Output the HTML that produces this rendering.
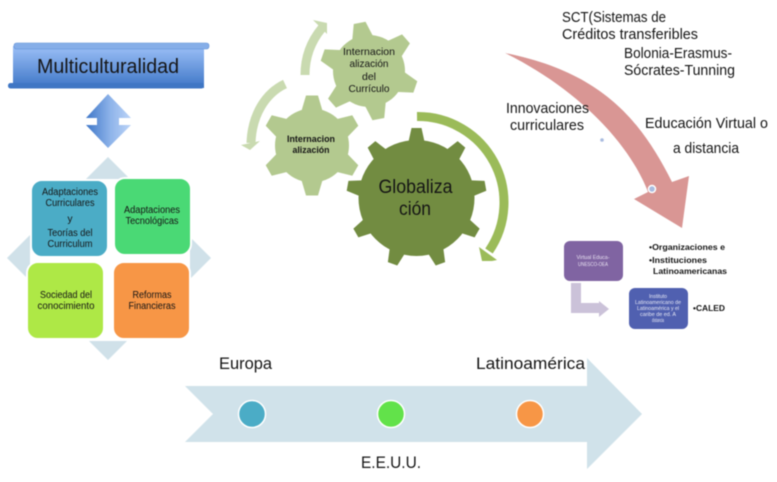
<!DOCTYPE html>
<html>
<head>
<meta charset="utf-8">
<style>
html,body{margin:0;padding:0;background:#fff;width:777px;height:482px;overflow:hidden}
svg{display:block;filter:blur(0.4px)}
text{font-family:"Liberation Sans",sans-serif;fill:#151515;text-anchor:middle}
.s{text-anchor:start}
.b{font-weight:bold}
</style>
</head>
<body>
<svg width="777" height="482" viewBox="0 0 777 482" xmlns="http://www.w3.org/2000/svg">
<defs>
<linearGradient id="bn" x1="0" y1="0" x2="0" y2="1"><stop offset="0" stop-color="#9cc0f7"/><stop offset="1" stop-color="#3d75c6"/></linearGradient>
<linearGradient id="da" x1="0" y1="0" x2="1" y2="0"><stop offset="0" stop-color="#3f77c8"/><stop offset=".55" stop-color="#8fb4ea"/><stop offset="1" stop-color="#bcd4f7"/></linearGradient>
</defs>

<!-- banner -->
<rect x="13" y="46" width="191" height="42" fill="url(#bn)"/>
<rect x="8" y="83" width="196" height="5.500" rx="2.500" fill="#3f76c4"/>
<rect x="14" y="43" width="195" height="6" rx="2.500" fill="#86aee8" stroke="#5f8fd6" stroke-width=".6"/>
<text x="108" y="73" font-size="20" textLength="142" lengthAdjust="spacingAndGlyphs">Multiculturalidad</text>

<!-- double arrow -->
<polygon points="108,94 131,118 119,118 119,125 131,125 108,148 86,125 97,125 97,118 86,118" fill="url(#da)"/>

<!-- diamond pointers -->
<polygon points="108,157 130,179 86,179" fill="#d0e1e9"/>
<polygon points="108,360 89,341 127,341" fill="#d0e1e9"/>
<polygon points="7,258 30,235 30,281" fill="#d0e1e9"/>
<polygon points="211,258 190,237 190,279" fill="#d0e1e9"/>

<!-- boxes -->
<rect x="31" y="180" width="77" height="77" rx="11" fill="#4bacc6" stroke="#fff" stroke-width="2"/>
<rect x="114" y="178" width="77" height="77" rx="11" fill="#4ad975" stroke="#fff" stroke-width="2"/>
<rect x="27" y="262" width="77" height="77" rx="11" fill="#aee846" stroke="#fff" stroke-width="2"/>
<rect x="113" y="262" width="77" height="77" rx="11" fill="#f79646" stroke="#fff" stroke-width="2"/>

<g font-size="10">
<text x="70" y="195" textLength="56" lengthAdjust="spacingAndGlyphs">Adaptaciones</text>
<text x="70" y="206" textLength="49" lengthAdjust="spacingAndGlyphs">Curriculares</text>
<text x="70" y="222">y</text>
<text x="70" y="236" textLength="45" lengthAdjust="spacingAndGlyphs">Teorías del</text>
<text x="70" y="247" textLength="45" lengthAdjust="spacingAndGlyphs">Curriculum</text>
<text x="152" y="213" textLength="56" lengthAdjust="spacingAndGlyphs">Adaptaciones</text>
<text x="152" y="224" textLength="53" lengthAdjust="spacingAndGlyphs">Tecnológicas</text>
<text x="66" y="298" textLength="52" lengthAdjust="spacingAndGlyphs">Sociedad del</text>
<text x="66" y="309" textLength="57" lengthAdjust="spacingAndGlyphs">conocimiento</text>
<text x="152" y="298" textLength="39" lengthAdjust="spacingAndGlyphs">Reformas</text>
<text x="152" y="309" textLength="47" lengthAdjust="spacingAndGlyphs">Financieras</text>
</g>

<!-- light curved arrows -->
<path d="M305 75 C305 55 312 40 322 28" fill="none" stroke="#c9dab0" stroke-width="9"/>
<polygon points="313,20 327,23 327,34" fill="#c9dab0"/>
<path d="M285 84 C266 93 252 114 251 143" fill="none" stroke="#c9dab0" stroke-width="9"/>
<polygon points="241,145 260,141 250,150" fill="#c9dab0"/>

<!-- gear top -->
<g fill="#b3c98f" transform="translate(369,71)">
<circle r="36"/>
<polygon points="-11,-32 -6,-49 6,-49 11,-32" transform="rotate(-11)"/>
<polygon points="-11,-32 -6,-49 6,-49 11,-32" transform="rotate(49)"/>
<polygon points="-11,-32 -6,-49 6,-49 11,-32" transform="rotate(109)"/>
<polygon points="-11,-32 -6,-49 6,-49 11,-32" transform="rotate(169)"/>
<polygon points="-11,-32 -6,-49 6,-49 11,-32" transform="rotate(229)"/>
<polygon points="-11,-32 -6,-49 6,-49 11,-32" transform="rotate(289)"/>
</g>

<!-- gear left -->
<g fill="#b3c98f" transform="translate(312,145.500)">
<circle r="37"/>
<polygon points="-11,-33 -6,-50 6,-50 11,-33"/>
<polygon points="-11,-33 -6,-50 6,-50 11,-33" transform="rotate(60)"/>
<polygon points="-11,-33 -6,-50 6,-50 11,-33" transform="rotate(120)"/>
<polygon points="-11,-33 -6,-50 6,-50 11,-33" transform="rotate(180)"/>
<polygon points="-11,-33 -6,-50 6,-50 11,-33" transform="rotate(240)"/>
<polygon points="-11,-33 -6,-50 6,-50 11,-33" transform="rotate(300)"/>
</g>

<!-- gear big -->
<g fill="#728c41" transform="translate(416.500,198)">
<circle r="58"/>
<polygon points="-8.500,-54 -5,-70 5,-70 8.500,-54"/>
<polygon points="-8.500,-54 -5,-70 5,-70 8.500,-54" transform="rotate(40)"/>
<polygon points="-8.500,-54 -5,-70 5,-70 8.500,-54" transform="rotate(80)"/>
<polygon points="-8.500,-54 -5,-70 5,-70 8.500,-54" transform="rotate(120)"/>
<polygon points="-8.500,-54 -5,-70 5,-70 8.500,-54" transform="rotate(160)"/>
<polygon points="-8.500,-54 -5,-70 5,-70 8.500,-54" transform="rotate(200)"/>
<polygon points="-8.500,-54 -5,-70 5,-70 8.500,-54" transform="rotate(240)"/>
<polygon points="-8.500,-54 -5,-70 5,-70 8.500,-54" transform="rotate(280)"/>
<polygon points="-8.500,-54 -5,-70 5,-70 8.500,-54" transform="rotate(320)"/>
</g>

<!-- big green arrow -->
<path d="M417 116.500 A86 86 0 0 1 489 251" fill="none" stroke="#9bbb59" stroke-width="9"/>
<polygon points="479,247 497,260 492,261 482,261" fill="#9bbb59"/>

<!-- gear text -->
<g font-size="10.500">
<text x="369" y="55" textLength="52" lengthAdjust="spacingAndGlyphs">Internacion</text>
<text x="369" y="67" textLength="39" lengthAdjust="spacingAndGlyphs">alización</text>
<text x="369" y="80" textLength="14" lengthAdjust="spacingAndGlyphs">del</text>
<text x="369" y="92" textLength="41" lengthAdjust="spacingAndGlyphs">Currículo</text>
</g>
<g font-size="9.500" class="b">
<text x="311" y="142" textLength="48" lengthAdjust="spacingAndGlyphs">Internacion</text>
<text x="311" y="153" textLength="37" lengthAdjust="spacingAndGlyphs">alización</text>
</g>
<text x="415.500" y="193" font-size="19" textLength="74" lengthAdjust="spacingAndGlyphs">Globaliza</text>
<text x="415" y="215" font-size="19" textLength="32" lengthAdjust="spacingAndGlyphs">ción</text>

<!-- red arrow -->
<path d="M505 53 C600 72 640 118 672 182 L689 176 L682 228 L634 199 L648 192 C630 145 580 90 505 53 Z" fill="#d99694"/>
<circle cx="652" cy="189" r="3.500" fill="#a9bce0" stroke="#fff" stroke-width="1.500"/>
<circle cx="602" cy="140" r="1.800" fill="#a9bce0"/>

<!-- top right text -->
<g font-size="14.500">
<text class="s" x="562" y="22" textLength="104" lengthAdjust="spacingAndGlyphs">SCT(Sistemas de</text>
<text class="s" x="562" y="39" textLength="136" lengthAdjust="spacingAndGlyphs">Créditos transferibles</text>
<text class="s" x="624" y="58" textLength="108" lengthAdjust="spacingAndGlyphs">Bolonia-Erasmus-</text>
<text class="s" x="624" y="75" textLength="111" lengthAdjust="spacingAndGlyphs">Sócrates-Tunning</text>
<text class="s" x="506" y="113" textLength="83" lengthAdjust="spacingAndGlyphs">Innovaciones</text>
<text class="s" x="510" y="130" textLength="74" lengthAdjust="spacingAndGlyphs">curriculares</text>
<text class="s" x="645" y="128" textLength="123" lengthAdjust="spacingAndGlyphs">Educación Virtual o</text>
<text class="s" x="673" y="153" textLength="66" lengthAdjust="spacingAndGlyphs">a distancia</text>
</g>

<!-- bottom right small diagram -->
<rect x="564" y="241" width="59" height="40" rx="6" fill="#8064a2"/>
<polygon points="571,283 581,283 581,303 599,303 599,301 609,309 599,317 599,313 571,313" fill="#cbc2d9"/>
<rect x="629" y="288" width="59" height="41" rx="6" fill="#5060b0"/>
<g font-size="5">
<text x="593" y="259" style="fill:#e6dff0" textLength="33" lengthAdjust="spacingAndGlyphs">Virtual Educa-</text>
<text x="593" y="266" style="fill:#e6dff0" textLength="30" lengthAdjust="spacingAndGlyphs">UNESCO-OEA</text>
<text x="658" y="298" style="fill:#e6e8f5" textLength="18" lengthAdjust="spacingAndGlyphs">Instituto</text>
<text x="658" y="304" style="fill:#e6e8f5" textLength="46" lengthAdjust="spacingAndGlyphs">Latinoamericano de</text>
<text x="658" y="310" style="fill:#e6e8f5" textLength="42" lengthAdjust="spacingAndGlyphs">Latinoamérica y el</text>
<text x="658" y="316" style="fill:#e6e8f5" textLength="36" lengthAdjust="spacingAndGlyphs">caribe de ed. A</text>
<text x="658" y="322" style="fill:#e6e8f5" textLength="12" lengthAdjust="spacingAndGlyphs">distancia</text>
</g>
<g font-size="8.500" class="b">
<text class="s" x="649" y="250" textLength="76" lengthAdjust="spacingAndGlyphs">•Organizaciones e</text>
<text class="s" x="649" y="263" textLength="58" lengthAdjust="spacingAndGlyphs">•Instituciones</text>
<text class="s" x="653" y="274" textLength="74" lengthAdjust="spacingAndGlyphs">Latinoamericanas</text>
<text class="s" x="693" y="311" textLength="32" lengthAdjust="spacingAndGlyphs">•CALED</text>
</g>

<!-- bottom timeline arrow -->
<polygon points="185,386 587,386 587,358 642,414 587,469 587,442 185,442 213,414" fill="#d0e2ea"/>
<circle cx="252" cy="414" r="13.500" fill="#4bacc6" stroke="#fff" stroke-width="1.500"/>
<circle cx="391" cy="414" r="13.500" fill="#62e24a" stroke="#fff" stroke-width="1.500"/>
<circle cx="530" cy="414" r="13.500" fill="#f79646" stroke="#fff" stroke-width="1.500"/>
<g font-size="16.500">
<text class="s" x="219" y="369" textLength="53" lengthAdjust="spacingAndGlyphs">Europa</text>
<text class="s" x="476" y="369" textLength="109" lengthAdjust="spacingAndGlyphs">Latinoamérica</text>
<text class="s" x="361" y="468" textLength="60" lengthAdjust="spacingAndGlyphs">E.E.U.U.</text>
</g>
</svg>
</body>
</html>
